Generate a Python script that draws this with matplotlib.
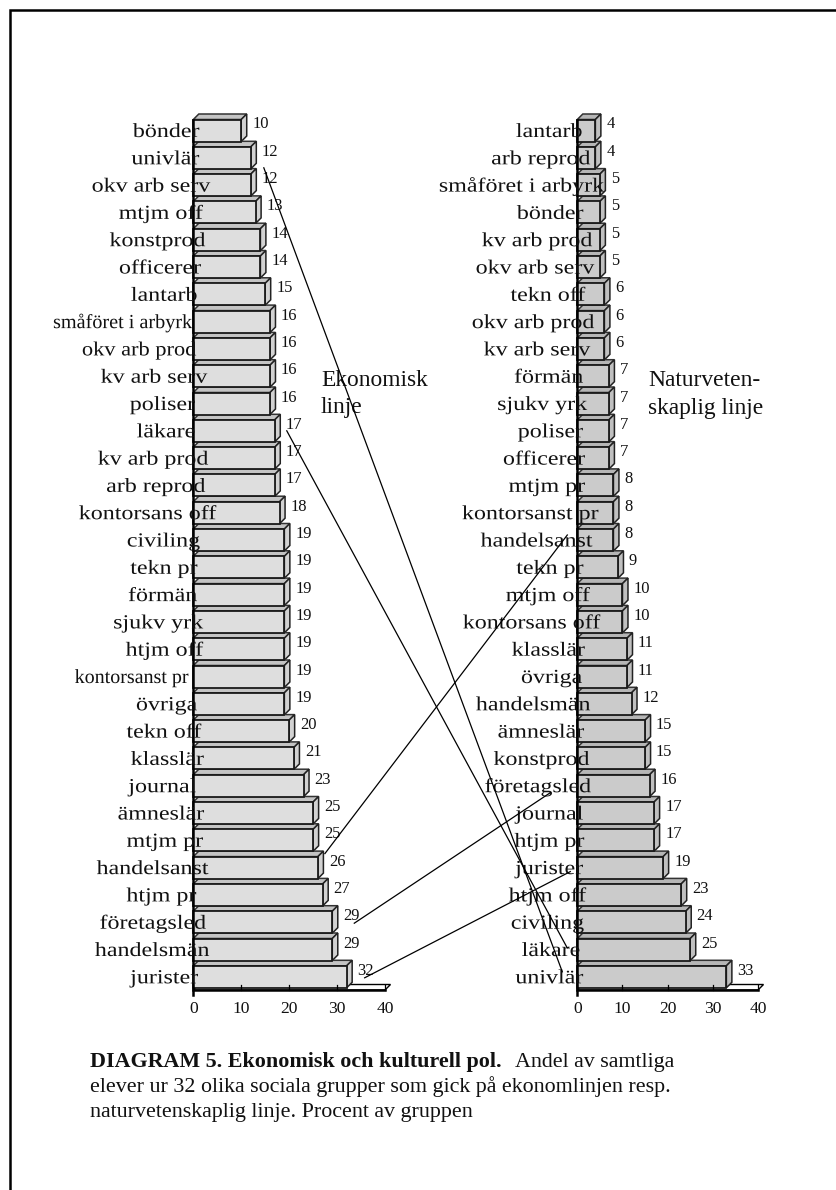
import matplotlib
matplotlib.use("Agg")
import matplotlib.pyplot as plt
from matplotlib.patches import Polygon
from matplotlib.lines import Line2D
from matplotlib.patheffects import AbstractPathEffect
from matplotlib.transforms import Affine2D, IdentityTransform

plt.rcParams['font.family'] = ['Liberation Serif', 'DejaVu Serif']

W, H = 837, 1190

# --- data -------------------------------------------------------------
eko_labels = ["bönder", "univlär", "okv arb serv", "mtjm off", "konstprod", "officerer", "lantarb",
              "småföret i arbyrk", "okv arb prod", "kv arb serv", "poliser", "läkare", "kv arb prod",
              "arb reprod", "kontorsans off", "civiling", "tekn pr", "förmän", "sjukv yrk", "htjm off",
              "kontorsanst pr", "övriga", "tekn off", "klasslär", "journal", "ämneslär", "mtjm pr",
              "handelsanst", "htjm pr", "företagsled", "handelsmän", "jurister"]
eko_values = [10, 12, 12, 13, 14, 14, 15, 16, 16, 16, 16, 17, 17, 17, 18, 19, 19, 19, 19, 19, 19, 19,
              20, 21, 23, 25, 25, 26, 27, 29, 29, 32]

nat_labels = ["lantarb", "arb reprod", "småföret i arbyrk", "bönder", "kv arb prod", "okv arb serv",
              "tekn off", "okv arb prod", "kv arb serv", "förmän", "sjukv yrk", "poliser", "officerer",
              "mtjm pr", "kontorsanst pr", "handelsanst", "tekn pr", "mtjm off", "kontorsans off",
              "klasslär", "övriga", "handelsmän", "ämneslär", "konstprod", "företagsled", "journal",
              "htjm pr", "jurister", "htjm off", "civiling", "läkare", "univlär"]
nat_values = [4, 4, 5, 5, 5, 5, 6, 6, 6, 7, 7, 7, 7, 8, 8, 8, 9, 10, 10, 11, 11, 12, 15, 15, 16, 17,
              17, 19, 23, 24, 25, 33]

xticks = [0, 10, 20, 30, 40]

# groups joined by a leader line between the two panels
links = ["univlär", "läkare", "handelsanst", "företagsled", "jurister"]

# --- layout (pixels) ---------------------------------------------------
TOP0, PITCH, BAR_H = 130.5, 27.3, 22.0
DEPTH = 5.5
AX_TOP, AX_BOT = 118.0, 990.0

# how far each category label overruns the value axis, in pixels
eko_over = [6, 6, 17, 10, 12, 8, 4, -1, 3, 14, 2, 2, 15, 12, 23, 7, 4, 4, 10, 10, -5, 4, 8, 11, 3, 11,
            10, 15, 3, 13, 16, 5]
nat_over = [5, 13, 27, 6, 15, 17, 8, 17, 13, 6, 10, 6, 8, 8, 21, 15, 6, 13, 23, 8, 5, 13, 7, 12, 14, 6,
            7, 6, 9, 7, 3, 6]

# the scanned labels are set wider than the normal face
LABEL_STRETCH = 1.2
eko_stretch = {"småföret i arbyrk": 1.01, "kontorsanst pr": 1.0, "okv arb prod": 1.12}

# leader-line end offsets in pixels, relative to bar end (left) and axis (right)
link_start = {"univlär": (13, 10), "läkare": (12, 0), "handelsanst": (7, -14),
              "företagsled": (22, 1), "jurister": (18, 1)}
link_end = {"univlär": (-15, -5), "läkare": (-10, -1.5), "handelsanst": (-10, -5),
            "företagsled": (-27, 7), "jurister": (-7, 4)}

LABEL_PX, VALUE_PX, TICK_PX = 20.0, 16.5, 17.5


def pt(px):
    return px * 72 / 100


class Stretch(AbstractPathEffect):
    """Widen the glyphs horizontally about the text origin."""

    def __init__(self, sx):
        super().__init__()
        self.sx = sx

    def draw_path(self, renderer, gc, tpath, affine, rgbFace=None):
        renderer.draw_path(gc, tpath, Affine2D().scale(self.sx, 1) + affine, rgbFace)


fig = plt.figure(figsize=(W / 100, H / 100), dpi=100, facecolor="white")
renderer = fig.canvas.get_renderer()


def panel(x0, x40, labels, values, over, stretch, fill, top_col, side_col):
    ax = fig.add_axes([x0 / W, 1 - AX_BOT / H, (x40 - x0) / W, (AX_BOT - AX_TOP) / H])
    ax.set_xlim(0, 40)
    ax.set_ylim((AX_BOT - TOP0) / PITCH, (AX_TOP - TOP0) / PITCH)
    ax.axis("off")
    ux = 40 / (x40 - x0)
    uy = 1 / PITCH
    dx, dy = DEPTH * ux, DEPTH * uy
    h = BAR_H * uy
    kw = dict(clip_on=False)

    # floor of the 3-D box
    y_floor = ax.get_ylim()[0]
    ax.add_patch(Polygon([(0, y_floor), (40, y_floor), (40 + dx, y_floor - dy), (dx, y_floor - dy)],
                         closed=True, fc="white", ec="black", lw=1.0, zorder=1, **kw))
    ys = range(len(values))
    ax.barh(list(ys), values, height=h, color=fill, edgecolor="#1a1a1a", linewidth=1.3, zorder=3,
            clip_on=False)
    for i, v in zip(ys, values):
        t, b = i - h / 2, i + h / 2
        ax.add_patch(Polygon([(0, t), (v, t), (v + dx, t - dy), (dx, t - dy)], closed=True,
                             fc=top_col, ec="#333333", lw=1.1, zorder=2, **kw))
        ax.add_patch(Polygon([(v, t), (v + dx, t - dy), (v + dx, b - dy), (v, b)], closed=True,
                             fc=side_col, ec="#222222", lw=1.1, zorder=2, **kw))
        ax.text(v + 11 * ux, i - 6 * uy, str(v), ha="left", va="center", fontsize=pt(VALUE_PX),
                color="#111111", zorder=6)
    # axis line and ticks
    ax.add_line(Line2D([0, 0], [y_floor + 5 * uy, -h / 2], color="black", lw=1.8, zorder=4, **kw))
    ax.add_line(Line2D([0, 40], [y_floor, y_floor], color="black", lw=1.8, zorder=4, **kw))
    for t in xticks:
        ax.add_line(Line2D([t, t], [y_floor, y_floor - dy], color="black", lw=0.9, zorder=4, **kw))
        ax.text(t, y_floor + 19 * uy, str(t), ha="center", va="center", fontsize=pt(TICK_PX),
                color="#111111")
    # category labels overlap the axis
    for i, (lab, o) in enumerate(zip(labels, over)):
        sx = stretch.get(lab, LABEL_STRETCH)
        txt = ax.text(0, i + 6.5 * uy, lab, ha="left", va="baseline", fontsize=pt(LABEL_PX),
                      color="#111111", zorder=7, path_effects=[Stretch(sx)])
        w = txt.get_window_extent(renderer).width
        txt.set_x((o - w * sx) * ux)
    return ax


ax_l = panel(193.3, 385.0, eko_labels, eko_values, eko_over, eko_stretch, "#dedede", "#c4c4c4", "#d2d2d2")
ax_r = panel(577.3, 758.0, nat_labels, nat_values, nat_over, {}, "#cbcbcb", "#b6b6b6", "#c0c0c0")

# leader lines between panels
for name in links:
    i = eko_labels.index(name)
    j = nat_labels.index(name)
    p0 = ax_l.transData.transform((eko_values[i], i))
    p1 = ax_r.transData.transform((0, j))
    s, e = link_start[name], link_end[name]
    fig.add_artist(Line2D([p0[0] + s[0], p1[0] + e[0]], [p0[1] - s[1], p1[1] - e[1]],
                          transform=IdentityTransform(), color="black", lw=0.9, zorder=10))


def ftext(x, y, s, **kw):
    fig.text(x / W, 1 - y / H, s, va="baseline", color="#111111", **kw)


side = pt(23.5)
ftext(321, 386, "Ekonomisk", fontsize=side)
ftext(321, 413, "linje", fontsize=side)
ftext(648, 386, "Naturveten-", fontsize=side)
ftext(648, 414, "skaplig linje", fontsize=side)

cap = pt(22)
ftext(90, 1067, "DIAGRAM 5. Ekonomisk och kulturell pol.", fontsize=cap, fontweight="bold")
ftext(515, 1067, "Andel av samtliga", fontsize=cap)
ftext(90, 1092, "elever ur 32 olika sociala grupper som gick på ekonomlinjen resp.", fontsize=cap)
ftext(90, 1117, "naturvetenskaplig linje. Procent av gruppen", fontsize=cap)

# page border
fig.add_artist(Line2D([10, 10, W], [0, H - 9.5, H - 9.5], transform=IdentityTransform(),
                      color="black", lw=1.8, solid_joinstyle="miter"))

fig.savefig("out.png", dpi=100, facecolor="white")
